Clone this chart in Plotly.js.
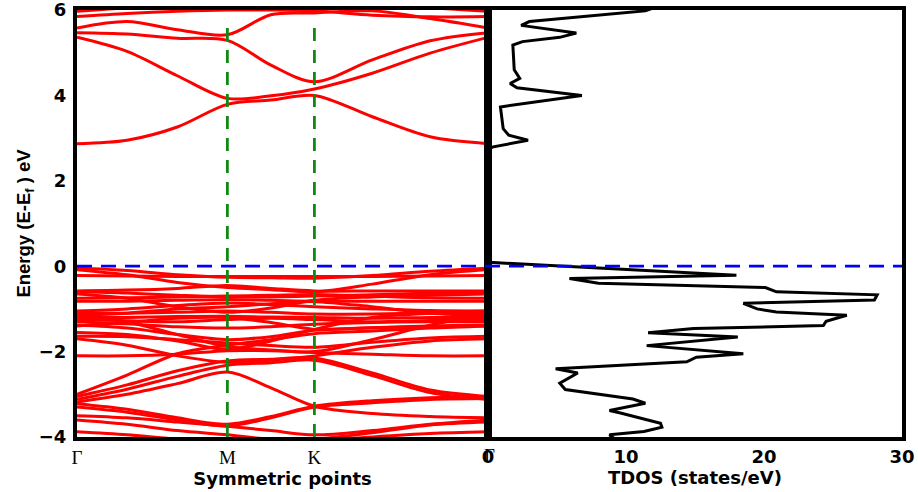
<!DOCTYPE html>
<html>
<head>
<meta charset="utf-8">
<script src="https://cdn.plot.ly/plotly-3.0.1.min.js"></script>
<style>html,body{margin:0;padding:0;background:#fff;}#chart{width:918px;height:492px;}</style>
</head>
<body>
<div id="chart"></div>
<script>
// k-path coordinates (Γ - M - K - Γ), sampled points
const kPoints = [0, 0.192, 0.385, 0.577, 0.744, 0.911, 1.133, 1.355, 1.577];
const kTickVals = [0, 0.577, 0.911, 1.577];
const kTickText = ['Γ', 'M', 'K', 'Γ'];

// conduction bands (eV) at kPoints
const condBands = [
  [2.87, 2.95, 3.26, 3.79, 3.89, 4.00, 3.50, 3.03, 2.87],
  [5.36, 5.03, 4.46, 3.93, 3.99, 4.15, 4.52, 4.99, 5.36],
  [5.47, 5.44, 5.34, 5.29, 4.71, 4.32, 4.83, 5.28, 5.47],
  [5.58, 5.73, 5.54, 5.42, 5.89, 5.93, 5.98, 5.80, 5.58],
  [5.85, 5.92, 5.97, 6.00, 6.00, 5.98, 5.88, 5.84, 5.85],
  [5.97, 6.05, 6.10, 6.10, 6.10, 6.10, 6.10, 6.05, 5.97]
];

// valence bands (eV) at kPoints
const valBands = [
  [-0.05, -0.10, -0.20, -0.26, -0.27, -0.28, -0.22, -0.12, -0.05],
  [-0.22, -0.23, -0.24, -0.24, -0.24, -0.24, -0.24, -0.23, -0.22],
  [-0.08, -0.20, -0.38, -0.50, -0.55, -0.60, -0.42, -0.20, -0.08],
  [-0.58, -0.56, -0.52, -0.45, -0.52, -0.58, -0.58, -0.58, -0.58],
  [-0.60, -0.63, -0.68, -0.72, -0.72, -0.70, -0.67, -0.63, -0.60],
  [-0.75, -0.74, -0.72, -0.70, -0.68, -0.66, -0.70, -0.74, -0.75],
  [-0.82, -0.82, -0.80, -0.78, -0.80, -0.82, -0.82, -0.82, -0.82],
  [-0.65, -0.75, -0.95, -1.08, -0.98, -0.80, -0.72, -0.68, -0.65],
  [-1.05, -1.00, -0.92, -0.86, -0.90, -0.95, -1.00, -1.04, -1.05],
  [-1.10, -1.10, -1.08, -1.05, -1.08, -1.12, -1.12, -1.10, -1.10],
  [-1.15, -1.10, -1.00, -0.95, -0.88, -0.83, -0.95, -1.10, -1.15],
  [-1.20, -1.20, -1.18, -1.17, -1.19, -1.20, -1.22, -1.20, -1.20],
  [-1.25, -1.28, -1.30, -1.25, -1.22, -1.25, -1.30, -1.27, -1.25],
  [-1.30, -1.35, -1.42, -1.45, -1.42, -1.36, -1.32, -1.30, -1.30],
  [-1.38, -1.45, -1.60, -1.72, -1.65, -1.50, -1.44, -1.40, -1.38],
  [-1.40, -1.32, -1.22, -1.20, -1.32, -1.48, -1.44, -1.42, -1.40],
  [-1.64, -1.65, -1.72, -1.80, -1.86, -1.90, -1.78, -1.68, -1.64],
  [-1.12, -1.30, -1.60, -1.88, -1.96, -2.00, -1.72, -1.38, -1.12],
  [-2.10, -2.10, -2.06, -1.98, -1.98, -2.02, -2.06, -2.10, -2.10],
  [-1.55, -1.60, -1.75, -1.95, -1.75, -1.48, -1.20, -1.10, -1.05],
  [-3.00, -2.55, -2.05, -1.85, -1.72, -1.58, -1.52, -1.45, -1.40],
  [-1.70, -1.85, -2.10, -2.25, -2.20, -2.10, -1.90, -1.75, -1.70],
  [-3.05, -2.78, -2.45, -2.22, -2.18, -2.15, -2.50, -2.90, -3.05],
  [-3.12, -2.88, -2.58, -2.32, -2.26, -2.20, -2.56, -2.96, -3.12],
  [-3.18, -3.00, -2.75, -2.48, -2.85, -3.28, -3.45, -3.52, -3.55],
  [-3.22, -3.35, -3.55, -3.70, -3.52, -3.28, -3.15, -3.08, -3.05],
  [-3.30, -3.42, -3.60, -3.74, -3.55, -3.30, -3.20, -3.12, -3.10],
  [-3.50, -3.55, -3.65, -3.75, -3.85, -3.95, -3.85, -3.70, -3.60],
  [-3.60, -3.70, -3.85, -3.95, -4.05, -4.05, -3.90, -3.72, -3.65],
  [-3.88, -3.95, -4.05, -4.10, -4.15, -4.10, -4.00, -3.92, -3.88]
];

// total DOS (states/eV) vs energy (eV)
const dosEnergy = [6.05, 5.98, 5.73, 5.64, 5.46, 5.36, 5.26, 5.18, 4.60, 4.40, 4.28, 4.18, 4.00, 3.73, 3.22, 3.07, 2.95, 2.79, 2.70, 0.12,
  0.09, -0.21, -0.29, -0.40, -0.50, -0.60, -0.67, -0.79, -0.87, -1.00, -1.07, -1.15, -1.29, -1.39, -1.46, -1.56, -1.66, -1.86, -2.05,
  -2.13, -2.24, -2.40, -2.50, -2.74, -2.89, -3.11, -3.21, -3.38, -3.44, -3.68, -3.77, -3.87, -3.95, -4.05];
const dosValue = [12.0, 11.4, 3.0, 2.4, 6.4, 5.2, 2.5, 1.8, 1.9, 2.3, 1.6, 2.1, 6.8, 0.9, 1.1, 1.5, 2.9, 0.3, 0.0, 0.0,
  0.1, 18.0, 5.9, 8.0, 20.1, 20.9, 28.2, 28.0, 18.5, 19.5, 20.9, 26.0, 24.5, 24.3, 14.9, 11.6, 18.1, 11.5, 18.5,
  15.1, 14.4, 4.9, 6.5, 5.2, 5.6, 10.5, 11.4, 8.8, 9.6, 12.5, 12.6, 11.3, 8.8, 9.2];
const dosTicks = [0, 10, 20, 30];
const energyTicks = [-4, -2, 0, 2, 4, 6];

const traces = [];
const bandLine = {color: '#ff0000', width: 3, shape: 'spline', smoothing: 0.9};
condBands.concat(valBands).forEach(function (b) {
  traces.push({x: kPoints, y: b, type: 'scatter', mode: 'lines', line: bandLine,
    xaxis: 'x', yaxis: 'y', hoverinfo: 'skip', showlegend: false});
});
traces.push({x: dosValue, y: dosEnergy, type: 'scatter', mode: 'lines',
  line: {color: '#000000', width: 3}, xaxis: 'x2', yaxis: 'y2', showlegend: false});

const boldSans = {family: 'DejaVu Sans, sans-serif', size: 18, color: '#000', weight: 'bold'};
const titleFont = {family: 'DejaVu Sans, sans-serif', size: 18, color: '#000', weight: 'bold'};
const serifTick = {family: 'Liberation Serif, Times New Roman, serif', size: 19, color: '#000'};
const split = 0.4982;
const eRange = [-4.0001, 6.0001];

const layout = {
  width: 918, height: 492,
  margin: {l: 77, r: 16, t: 10, b: 55},
  paper_bgcolor: '#fff', plot_bgcolor: '#fff',
  showlegend: false,
  xaxis: {
    domain: [0, split], range: [0, 1.5772], anchor: 'y',
    tickmode: 'array', tickvals: kTickVals.slice(0, 3), ticktext: kTickText.slice(0, 3), ticklabeloverflow: 'allow',
    tickfont: serifTick,
    showgrid: false, zeroline: false, showline: true, mirror: true, linecolor: '#000', linewidth: 4,
    ticks: '', title: {text: 'Symmetric points', font: titleFont, standoff: 6}
  },
  yaxis: {
    domain: [0, 1], range: eRange, anchor: 'x', tickmode: 'array',
    tickvals: energyTicks, tickfont: boldSans, ticks: '', ticklabelstandoff: 3, ticklabeloverflow: 'allow',
    showgrid: false, zeroline: false, showline: true, mirror: true, linecolor: '#000', linewidth: 4,
    title: {text: 'Energy (E-E<sub>f</sub> ) eV', font: {family: 'Liberation Sans, Arial, sans-serif', size: 18.5, color: '#000', weight: 'bold'}, standoff: 4}
  },
  xaxis2: {
    domain: [split, 1], range: [-0.0001, 30.0001], anchor: 'y2', tickmode: 'array',
    tickvals: dosTicks, tickfont: boldSans, ticks: '', ticklabeloverflow: 'allow',
    showgrid: false, zeroline: false, showline: true, mirror: true, linecolor: '#000', linewidth: 4,
    title: {text: 'TDOS (states/eV)', font: titleFont, standoff: 6}
  },
  yaxis2: {
    domain: [0, 1], range: eRange, anchor: 'x2', matches: 'y',
    showticklabels: false, ticks: '',
    showgrid: false, zeroline: false, showline: true, mirror: true, linecolor: '#000', linewidth: 4
  },
  annotations: [
    {text: kTickText[3], xref: 'x', yref: 'paper', x: kTickVals[3], y: 0, yanchor: 'top', yshift: -6, xshift: 2,
      showarrow: false, font: serifTick}
  ],
  shapes: [
    {type: 'line', xref: 'paper', yref: 'y', x0: 0, x1: 1, y0: 0, y1: 0,
      line: {color: '#0000ff', width: 2.8, dash: '15px,9px'}, layer: 'above'},
    {type: 'line', xref: 'x', yref: 'y', x0: kTickVals[1], x1: kTickVals[1], y0: -4, y1: 5.75,
      line: {color: '#118811', width: 2.8, dash: '13px,9px'}, layer: 'above'},
    {type: 'line', xref: 'x', yref: 'y', x0: kTickVals[2], x1: kTickVals[2], y0: -4, y1: 5.75,
      line: {color: '#118811', width: 2.8, dash: '13px,9px'}, layer: 'above'}
  ]
};

Plotly.newPlot('chart', traces, layout, {staticPlot: true, displayModeBar: false});
</script>
</body>
</html>
